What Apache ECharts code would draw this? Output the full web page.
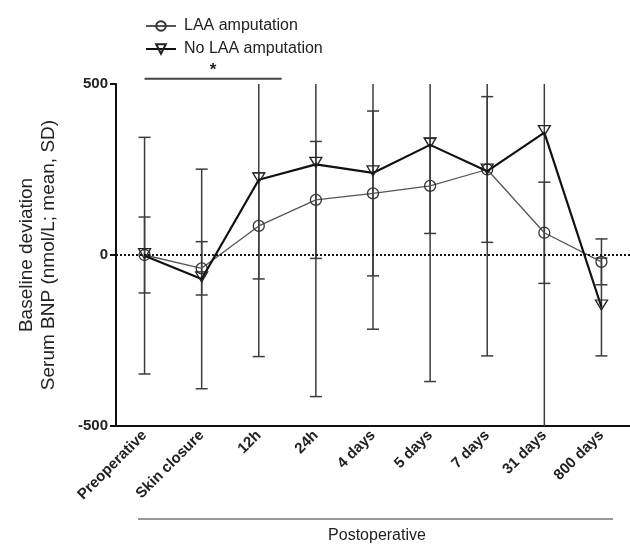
<!DOCTYPE html>
<html>
<head>
<meta charset="utf-8">
<script src="https://cdn.jsdelivr.net/npm/echarts@6/dist/echarts.min.js"></script>
<style>
  html, body { margin: 0; padding: 0; background: #fff; }
  #chart { width: 630px; height: 545px; }
</style>
</head>
<body>
<div id="chart"></div>
<script>
const categories = ['Preoperative', 'Skin closure', '12h', '24h', '4 days', '5 days', '7 days', '31 days', '800 days'];
const laaMean = [0, -39, 85, 161, 180, 202, 250, 65, -20];
const laaSD = [111, 78, 155, 171, 241, 139, 213, 148, 67];
const noLaaMean = [-2, -70, 220, 265, 240, 322, 245, 358, -152];
const noLaaSD = [346, 321, 517, 679, 457, 692, 540, 900, 143];
const yTicks = { min: -500, max: 500, interval: 500 };
const sigBar = { from: 0, to: 2.4, y: 515, label: '*' };
const groupLabel = 'Postoperative';

const FONT = "'Liberation Sans', Arial, Helvetica, sans-serif";

function errData(mean, sd) {
  return categories.map((c, i) => [i, mean[i] - sd[i], mean[i] + sd[i]]);
}

function renderErr(params, api) {
  const x = api.value(0);
  const lo = api.coord([x, api.value(1)]);
  const hi = api.coord([x, api.value(2)]);
  const w = 6;
  const st = { stroke: '#3c3c3c', lineWidth: 1.5 };
  return {
    type: 'group',
    children: [
      { type: 'line', shape: { x1: lo[0], y1: lo[1], x2: hi[0], y2: hi[1] }, style: st },
      { type: 'line', shape: { x1: lo[0] - w, y1: lo[1], x2: lo[0] + w, y2: lo[1] }, style: st },
      { type: 'line', shape: { x1: hi[0] - w, y1: hi[1], x2: hi[0] + w, y2: hi[1] }, style: st }
    ]
  };
}

function renderSig(params, api) {
  const p0 = api.coord([0, sigBar.y]);
  const p1 = api.coord([1, sigBar.y]);
  const step = p1[0] - p0[0];
  const xa = p0[0] + step * sigBar.from;
  const xb = p0[0] + step * sigBar.to;
  return {
    type: 'group',
    children: [
      { type: 'line', shape: { x1: xa, y1: p0[1], x2: xb, y2: p0[1] }, style: { stroke: '#444', lineWidth: 2 } },
      { type: 'text', x: (xa + xb) / 2, y: p0[1] - 9,
        style: { text: sigBar.label, font: 'bold 17px ' + FONT, fill: '#222', align: 'center', verticalAlign: 'middle' } }
    ]
  };
}

const chart = echarts.init(document.getElementById('chart'), null, { renderer: 'canvas' });
chart.setOption({
  animation: false,
  backgroundColor: '#fff',
  textStyle: { fontFamily: FONT },
  legend: {
    orient: 'vertical',
    left: 140,
    top: 13,
    itemWidth: 30,
    itemHeight: 12,
    itemGap: 7,
    textStyle: { fontSize: 16, color: '#222', fontFamily: FONT, padding: [0, 0, 0, 3] },
    data: ['LAA amputation', 'No LAA amputation']
  },
  grid: { left: 116, top: 84, width: 517, height: 342, containLabel: false },
  xAxis: {
    type: 'category',
    data: categories,
    boundaryGap: true,
    axisLine: { onZero: false, lineStyle: { color: '#111', width: 2 } },
    axisTick: { alignWithLabel: true, length: 6, lineStyle: { color: '#111', width: 2 } },
    axisLabel: { rotate: 45, interval: 0, fontWeight: 'bold', fontSize: 15, color: '#222', margin: 7, fontFamily: FONT },
    splitLine: { show: false }
  },
  yAxis: {
    type: 'value',
    min: yTicks.min,
    max: yTicks.max,
    interval: yTicks.interval,
    name: 'Baseline deviation\nSerum BNP (nmol/L; mean, SD)',
    nameLocation: 'middle',
    nameGap: 56,
    nameTextStyle: { fontSize: 19, lineHeight: 22, color: '#222', fontFamily: FONT },
    axisLine: { show: true, lineStyle: { color: '#111', width: 2 } },
    axisTick: { show: true, length: 6, lineStyle: { color: '#111', width: 2 } },
    axisLabel: { fontWeight: 'bold', fontSize: 15, color: '#222', margin: 8, fontFamily: FONT },
    splitLine: { show: false }
  },
  graphic: [
    { type: 'line', shape: { x1: 138, y1: 519, x2: 613, y2: 519 }, style: { stroke: '#999', lineWidth: 2 } },
    { type: 'text', x: 377, y: 536, style: { text: groupLabel, font: '16px ' + FONT, fill: '#222', align: 'center', verticalAlign: 'middle' } }
  ],
  series: [
    {
      name: 'LAA err', type: 'custom', renderItem: renderErr, clip: true, z: 1,
      encode: { x: 0, y: [1, 2] }, data: errData(laaMean, laaSD), silent: true
    },
    {
      name: 'No LAA err', type: 'custom', renderItem: renderErr, clip: true, z: 1,
      encode: { x: 0, y: [1, 2] }, data: errData(noLaaMean, noLaaSD), silent: true
    },
    {
      name: 'sig', type: 'custom', renderItem: renderSig, clip: false, z: 3,
      encode: { x: 0, y: 1 }, data: [[0, sigBar.y]], silent: true
    },
    {
      name: 'LAA amputation', type: 'line', data: laaMean, z: 3,
      symbol: 'circle', symbolSize: 11,
      itemStyle: { color: 'rgba(255,255,255,0)', borderColor: '#333', borderWidth: 1.3 },
      lineStyle: { color: '#555', width: 1.3 },
      markLine: {
        silent: true, symbol: 'none', label: { show: false },
        lineStyle: { type: [2, 2], color: '#111', width: 2 },
        data: [{ yAxis: 0 }]
      }
    },
    {
      name: 'No LAA amputation', type: 'line', data: noLaaMean, z: 4,
      symbol: 'triangle', symbolRotate: 180, symbolSize: [12, 10], symbolOffset: [0, -2],
      itemStyle: { color: 'rgba(255,255,255,0)', borderColor: '#222', borderWidth: 1.3 },
      lineStyle: { color: '#111', width: 2.2 }
    }
  ]
});
</script>
</body>
</html>
